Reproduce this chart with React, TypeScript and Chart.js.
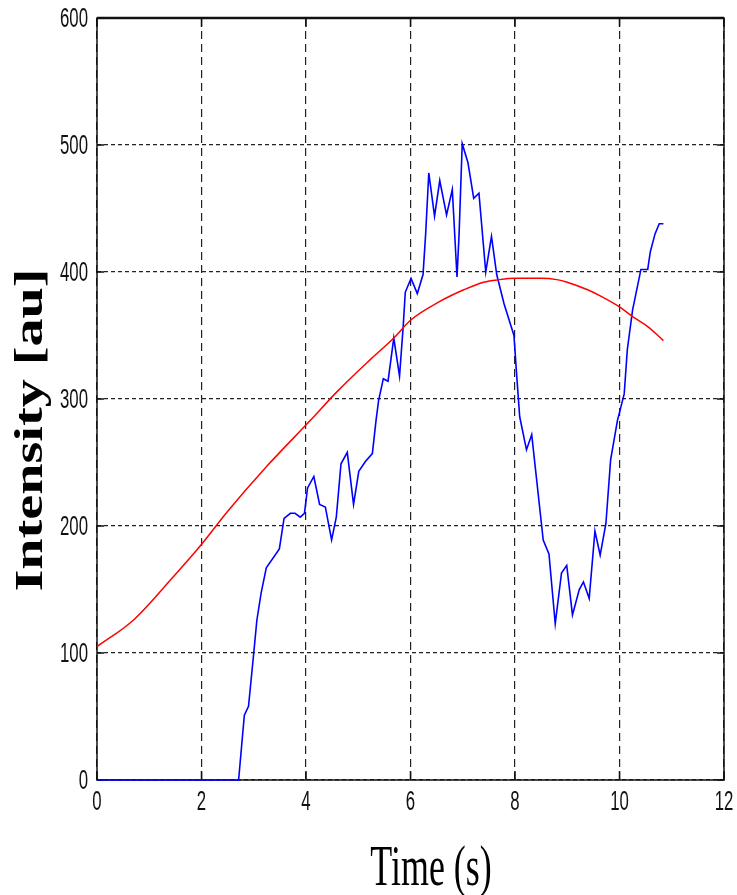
import React, { useEffect, useRef } from "react";
import { Chart, registerables } from "chart.js";

Chart.register(...registerables);

// ---- data ----
const blueTime = [
  0, 2.71, 2.82, 2.9, 3.0, 3.06, 3.14, 3.24, 3.49, 3.58, 3.7, 3.79, 3.89, 3.97,
  4.03, 4.15, 4.26, 4.37, 4.49, 4.58, 4.67, 4.79, 4.91, 5.01, 5.14, 5.27, 5.34,
  5.39, 5.48, 5.57, 5.68, 5.79, 5.86, 5.9, 6.01, 6.13, 6.24, 6.29, 6.35, 6.46,
  6.56, 6.69, 6.8, 6.89, 6.93, 6.99, 7.1, 7.21, 7.31, 7.44, 7.55, 7.65, 7.79,
  7.98, 8.03, 8.09, 8.22, 8.32, 8.54, 8.65, 8.77, 8.89, 8.99, 9.1, 9.23, 9.31,
  9.42, 9.53, 9.63, 9.74, 9.83, 9.96, 10.09, 10.15, 10.25, 10.41, 10.54, 10.59,
  10.68, 10.76, 10.84,
];
const blueIntensity = [
  0, 0, 51, 58, 100, 126, 147, 167, 182, 206, 210, 210, 207, 210,
  230, 239, 217, 215, 189, 207, 249, 258, 217, 243, 251, 257, 283,
  299, 316, 314, 348, 318, 357, 384, 395, 383, 398, 430, 478, 444,
  472, 445, 465, 396, 430, 501, 486, 458, 462, 400, 428, 398, 375,
  350, 320, 286, 260, 272, 189, 178, 123, 163, 169, 130, 150, 156,
  143, 196, 177, 202, 252, 283, 304, 339, 370, 402, 402, 416,
  430, 438, 438,
];
const redTime = [
  0, 0.7, 1.46, 1.97, 2.49, 3.25, 4.08, 4.6, 5.23, 5.68, 6.0, 6.57, 7.02,
  7.4, 7.7, 8.0, 8.5, 8.8, 9.0, 9.39, 9.64, 10.02, 10.28, 10.54, 10.84,
];
const redIntensity = [
  105, 126, 160, 184, 211, 247, 283, 306, 331, 348, 362, 377, 386,
  392, 394, 395, 395, 394, 392, 386, 381, 372, 364, 357, 346,
];
const xTickLabels = ["0", "2", "4", "6", "8", "10", "12"];
const yTickLabels = ["0", "100", "200", "300", "400", "500", "600"];
const xTitle = "Time (s)";
const yTitle = "Intensity [au]";

const W = 737;
const H = 895;

const decorPlugin = {
  id: "matlabDecor",
  beforeDatasetsDraw(chart: any) {
    const { ctx, chartArea } = chart;
    const { left, right, top, bottom } = chartArea;
    const xs = chart.scales.x;
    const ys = chart.scales.y;
    ctx.save();
    ctx.strokeStyle = "#111";
    ctx.lineWidth = 1.5;
    ctx.setLineDash([]);
    ctx.strokeRect(left, top, right - left, bottom - top);
    ctx.lineWidth = 2.5;
    ctx.beginPath();
    ctx.moveTo(left, top);
    ctx.lineTo(right, top);
    ctx.stroke();
    ctx.lineWidth = 1.5;
    ctx.beginPath();
    xs.ticks.forEach((t: any) => {
      const px = xs.getPixelForValue(t.value);
      ctx.moveTo(px, bottom);
      ctx.lineTo(px, bottom - 9);
      ctx.moveTo(px, top);
      ctx.lineTo(px, top + 9);
    });
    ys.ticks.forEach((t: any) => {
      const py = ys.getPixelForValue(t.value);
      ctx.moveTo(left, py);
      ctx.lineTo(left + 7, py);
      ctx.moveTo(right, py);
      ctx.lineTo(right - 7, py);
    });
    ctx.stroke();
    ctx.restore();
  },
  afterDraw(chart: any) {
    const { ctx } = chart;
    const xs = chart.scales.x;
    const ys = chart.scales.y;
    ctx.save();
    ctx.fillStyle = "#111";
    ctx.font = "28px 'Liberation Sans', Arial, sans-serif";
    ctx.textBaseline = "middle";
    xs.ticks.forEach((t: any, i: number) => {
      const px = xs.getPixelForValue(t.value);
      const label = xTickLabels[i] ?? String(t.value);
      ctx.save();
      ctx.translate(px, 802);
      ctx.scale(0.6, 1);
      ctx.textAlign = "center";
      ctx.fillText(label, 0, 0);
      ctx.restore();
    });
    ys.ticks.forEach((t: any, i: number) => {
      const py = ys.getPixelForValue(t.value);
      const label = yTickLabels[i] ?? String(t.value);
      ctx.save();
      ctx.translate(88, py + 1);
      ctx.scale(0.6, 1);
      ctx.textAlign = "right";
      ctx.fillText(label, 0, 0);
      ctx.restore();
    });

    ctx.fillStyle = "#000";
    ctx.save();
    ctx.font = "57px 'Liberation Serif', 'Times New Roman', serif";
    ctx.translate(431, 885);
    ctx.scale(0.63, 1);
    ctx.textAlign = "center";
    ctx.textBaseline = "alphabetic";
    ctx.fillText(xTitle, 0, 0);
    ctx.restore();

    ctx.save();
    ctx.font = "bold 41px 'Liberation Serif', 'Times New Roman', serif";
    ctx.translate(42, 430);
    ctx.rotate(-Math.PI / 2);
    ctx.scale(1.37, 1);
    ctx.textAlign = "center";
    ctx.textBaseline = "alphabetic";
    ctx.fillText(yTitle, 0, 0);
    ctx.restore();

    ctx.restore();
  },
};

export default function App() {
  const ref = useRef<HTMLCanvasElement | null>(null);

  useEffect(() => {
    if (!ref.current) return;
    const blue = blueTime.map((t, i) => ({ x: t, y: blueIntensity[i] }));
    const red = redTime.map((t, i) => ({ x: t, y: redIntensity[i] }));
    const chart = new Chart(ref.current, {
      type: "line",
      data: {
        datasets: [
          {
            label: "Fit",
            data: red,
            borderColor: "#ff0000",
            borderWidth: 1.5,
            pointRadius: 0,
            fill: false,
            cubicInterpolationMode: "monotone",
            clip: 4,
          },
          {
            label: "Intensity",
            data: blue,
            borderColor: "#0000ff",
            borderWidth: 1.6,
            pointRadius: 0,
            fill: false,
            tension: 0,
            clip: 4,
          },
        ],
      },
      options: {
        responsive: false,
        animation: false,
        devicePixelRatio: 1,
        layout: { padding: { left: 97, right: 13, top: 18, bottom: 115 } },
        plugins: {
          legend: { display: false },
          tooltip: { enabled: false },
          title: { display: false },
        },
        scales: {
          x: {
            type: "linear",
            min: 0,
            max: 12,
            ticks: { stepSize: 2, display: false },
            grid: { color: "#222", lineWidth: 1.2, drawTicks: false },
            border: { display: false, dash: [8, 5] },
            afterFit: (s: any) => {
              s.height = 0;
            },
          },
          y: {
            type: "linear",
            min: 0,
            max: 600,
            ticks: { stepSize: 100, display: false },
            grid: { color: "#222", lineWidth: 1.2, drawTicks: false },
            border: { display: false, dash: [4, 3] },
            afterFit: (s: any) => {
              s.width = 0;
            },
          },
        },
      },
      plugins: [decorPlugin],
    });
    return () => chart.destroy();
  }, []);

  return (
    <div style={{ position: "absolute", left: 0, top: 0, width: W, height: H, background: "#fff" }}>
      <canvas ref={ref} width={W} height={H} style={{ display: "block", width: W, height: H }} />
    </div>
  );
}
